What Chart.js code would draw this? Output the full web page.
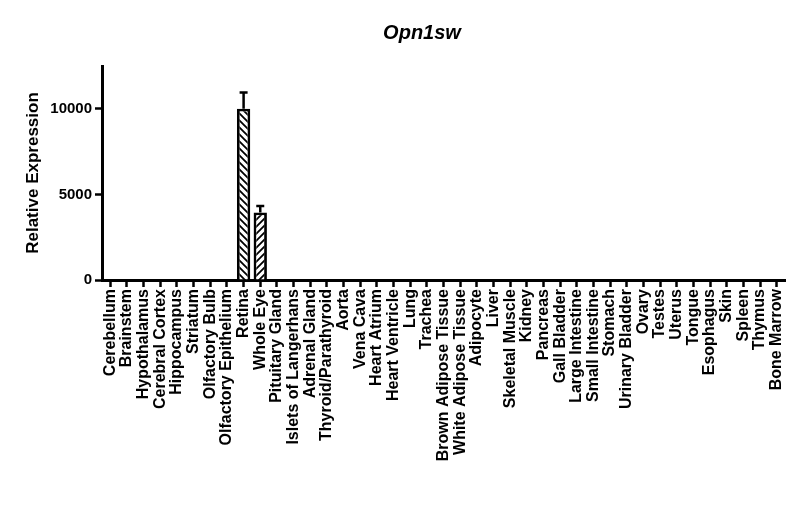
<!DOCTYPE html>
<html>
<head>
<meta charset="utf-8">
<script src="https://cdn.jsdelivr.net/npm/chart.js@4"></script>
<style>
  html, body { margin: 0; padding: 0; background: #fff; }
  #wrap { width: 800px; height: 514px; }
</style>
</head>
<body>
<div id="wrap"><canvas id="grafico"></canvas></div>
<script>
// datos
const tejidos = ['Cerebellum', 'Brainstem', 'Hypothalamus', 'Cerebral Cortex', 'Hippocampus', 'Striatum',
  'Olfactory Bulb', 'Olfactory Epithelium', 'Retina', 'Whole Eye', 'Pituitary Gland', 'Islets of Langerhans',
  'Adrenal Gland', 'Thyroid/Parathyroid', 'Aorta', 'Vena Cava', 'Heart Atrium', 'Heart Ventricle', 'Lung',
  'Trachea', 'Brown Adipose Tissue', 'White Adipose Tissue', 'Adipocyte', 'Liver', 'Skeletal Muscle', 'Kidney',
  'Pancreas', 'Gall Bladder', 'Large Intestine', 'Small Intestine', 'Stomach', 'Urinary Bladder', 'Ovary',
  'Testes', 'Uterus', 'Tongue', 'Esophagus', 'Skin', 'Spleen', 'Thymus', 'Bone Marrow']
const expresion = [0, 0, 0, 0, 0, 0, 0, 0, 10000, 3950, 0, 0, 0, 0, 0, 0, 0, 0, 0, 0,
  0, 0, 0, 0, 0, 0, 0, 0, 0, 0, 0, 30, 0, 0, 0, 0, 0, 0, 0, 0, 0]
const errores = [0, 0, 0, 0, 0, 0, 0, 0, 950, 370, 0, 0, 0, 0, 0, 0, 0, 0, 0, 0,
  0, 0, 0, 0, 0, 0, 0, 0, 0, 0, 0, 0, 0, 0, 0, 0, 0, 0, 0, 0, 0]
const ticksY = [0, 5000, 10000]
const titulo = 'Opn1sw'
const tituloY = 'Relative Expression'

const fuente = '"Liberation Sans", Arial, sans-serif'

// rayado diagonal para las barras
function rayado(invertido) {
  const c = document.createElement('canvas')
  const s = 7
  c.width = s
  c.height = s
  const g = c.getContext('2d')
  g.fillStyle = '#fff'
  g.fillRect(0, 0, s, s)
  g.strokeStyle = '#000'
  g.lineWidth = 1.8
  g.beginPath()
  if (invertido) {
    g.moveTo(-1, -1); g.lineTo(s + 1, s + 1)
    g.moveTo(-1, s - 1); g.lineTo(1, s + 1)
    g.moveTo(s - 1, -1); g.lineTo(s + 1, 1)
  } else {
    g.moveTo(-1, s + 1); g.lineTo(s + 1, -1)
    g.moveTo(-1, 1); g.lineTo(1, -1)
    g.moveTo(s - 1, s + 1); g.lineTo(s + 1, s - 1)
  }
  g.stroke()
  return g.createPattern(c, 'repeat')
}

const patronA = rayado(true)
const patronB = rayado(false)

// barras de error (solo hacia arriba)
const barrasError = {
  id: 'barrasError',
  afterDatasetsDraw(chart) {
    const ctx = chart.ctx
    const y = chart.scales.y
    chart.getDatasetMeta(0).data.forEach((barra, i) => {
      if (!errores[i]) return
      const tope = y.getPixelForValue(expresion[i] + errores[i])
      ctx.save()
      ctx.strokeStyle = '#000'
      ctx.lineWidth = 2.5
      ctx.beginPath()
      ctx.moveTo(barra.x, barra.y)
      ctx.lineTo(barra.x, tope)
      ctx.moveTo(barra.x - 4, tope)
      ctx.lineTo(barra.x + 4, tope)
      ctx.stroke()
      ctx.restore()
    })
  }
}

// titulo en cursiva negrita
const tituloGrafico = {
  id: 'tituloGrafico',
  afterDraw(chart) {
    const ctx = chart.ctx
    ctx.save()
    ctx.fillStyle = '#000'
    ctx.font = 'italic bold 20px ' + fuente
    ctx.textAlign = 'center'
    ctx.textBaseline = 'middle'
    ctx.fillText(titulo, 422, 33)
    ctx.restore()
  }
}

function grafico_barras() {
  const ctx = document.getElementById('grafico')
  new Chart(ctx, {
    type: 'bar',
    data: {
      labels: tejidos,
      datasets: [{
        data: expresion,
        backgroundColor: c => (c.dataIndex % 2 === 0 ? patronA : patronB),
        borderColor: '#000',
        borderWidth: 2.8,
        borderSkipped: 'bottom',
        barPercentage: 0.8,
        categoryPercentage: 1
      }]
    },
    options: {
      responsive: true,
      maintainAspectRatio: false,
      animation: false,
      layout: { padding: { top: 66, right: 15, left: 0, bottom: 0 } },
      plugins: {
        legend: { display: false },
        title: { display: false },
        tooltip: { enabled: false }
      },
      scales: {
        x: {
          offset: true,
          afterFit(scale) { scale.height = 234 },
          grid: { display: true, drawOnChartArea: false, drawTicks: true, tickLength: 7, tickWidth: 2.5, tickColor: '#000', offset: false },
          border: { color: '#000', width: 3 },
          ticks: {
            autoSkip: false,
            maxRotation: 90,
            minRotation: 90,
            padding: 2,
            color: '#000',
            font: { family: fuente, size: 16, weight: 'bold' }
          }
        },
        y: {
          min: 0,
          max: 12500,
          afterFit(scale) { scale.width = 102 },
          afterBuildTicks(scale) { scale.ticks = ticksY.map(v => ({ value: v })) },
          grid: { display: true, drawOnChartArea: false, drawTicks: true, tickLength: 7, tickWidth: 2.5, tickColor: '#000' },
          border: { color: '#000', width: 3 },
          ticks: {
            padding: 3,
            color: '#000',
            font: { family: fuente, size: 15, weight: 'bold' },
            callback: v => String(v)
          },
          title: {
            display: true,
            text: tituloY,
            color: '#000',
            padding: { top: 23, bottom: 0 },
            font: { family: fuente, size: 17, weight: 'bold' }
          }
        }
      }
    },
    plugins: [barrasError, tituloGrafico]
  })
}

grafico_barras()
</script>
</body>
</html>
